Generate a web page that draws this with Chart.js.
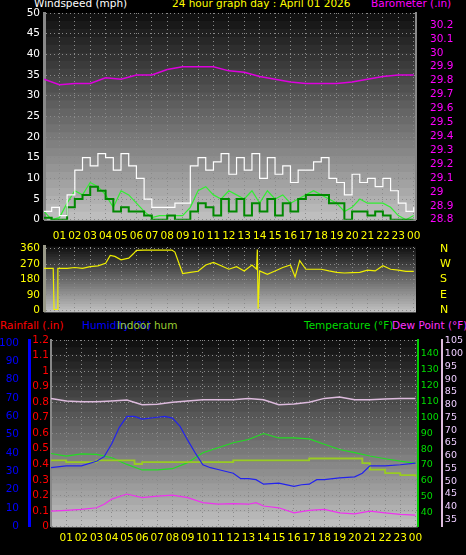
<!DOCTYPE html>
<html><head><meta charset="utf-8">
<script src="https://cdn.jsdelivr.net/npm/chart.js@4"></script>
<style>
body{margin:0;background:#000;width:466px;height:555px;overflow:hidden;position:relative;font-family:"DejaVu Sans",sans-serif}
.c{position:absolute;left:0;width:466px}
.t{position:absolute;font-size:10.5px;white-space:nowrap}
</style></head><body>
<div class="t" style="left:34px;top:-3px;color:#fff">Windspeed (mph)</div>
<div class="t" style="left:172px;top:-3px;color:#ff0">24 hour graph day : April 01 2026</div>
<div class="t" style="left:371px;top:-3px;color:#f0f">Barometer (.in)</div>
<div class="t" style="left:0px;top:319px;color:#f00">Rainfall (.in)</div>
<div class="t" style="left:82px;top:319px;color:#00f">Humidity (%)</div>
<div class="t" style="left:117px;top:319px;color:#9c3">Indoor hum</div>
<div class="t" style="left:304px;top:319px;color:#0d0">Temperature (°F)</div>
<div class="t" style="left:392px;top:319px;color:#f3f">Dew Point (°F)</div>
<div class="c" style="top:0;height:232px"><canvas id="c1"></canvas></div>
<div class="c" style="top:224px;height:110px"><canvas id="c2"></canvas></div>
<div class="c" style="top:318px;height:237px"><canvas id="c3"></canvas></div>
<script>
const halfHours=[0,0.5,1,1.5,2,2.5,3,3.5,4,4.5,5,5.5,6,6.5,7,7.5,8,8.5,9,9.5,10,10.5,11,11.5,12,12.5,13,13.5,14,14.5,15,15.5,16,16.5,17,17.5,18,18.5,19,19.5,20,20.5,21,21.5,22,22.5,23,23.5,24];
const windGust=[2,3,1,6,12,15,13,16,15,12,16,13,10,5,3,3,3,4,4,13,15,12,14,16,11,15,12,16,10,15,11,13,9,12,12,14,15,10,9,6,11,9,10,8,10,7,4,2,3];
const windAvg=[2,0,0.5,4,7,6,9,8,6,3,7,6,4,2,0.5,1,1,1,1,3,7,8,6,5,7,6,5,7,4,7,5,6,4,5,6,7,6,5,4,2,3,5,4,4,4,3,1,0,1];
const windSpeed=[0.5,0,0,3,5,6,8,7,5,2,3,2,2,1,0,0,1,0,0,2,4,3,1,5,2,5,1,4,2,5,1,4,2,5,6,6,6,4,4,0,2,2,1,2,1,0,0,0,0];
const hours=[0,1,2,3,4,5,6,7,8,9,10,11,12,13,14,15,16,17,18,19,20,21,22,23,24];
const baro=[29.81,29.77,29.78,29.78,29.82,29.81,29.84,29.84,29.88,29.9,29.9,29.9,29.87,29.86,29.83,29.81,29.79,29.78,29.78,29.78,29.79,29.81,29.83,29.84,29.84];
const dirX=[0,0.6,0.65,0.85,0.9,1.5,2,2.5,3,3.5,4,4.3,4.6,5,5.5,5.8,6,6.5,7,7.5,8,8.3,8.5,9,9.5,10,10.5,11,11.5,12,12.5,13,13.5,13.8,13.85,13.9,14,14.5,15,15.5,16,16.3,16.6,17,17.5,18,18.5,19,19.5,20,20.5,21,21.5,22,22.5,23,23.5,24];
const dirY=[245,245,5,5,245,245,250,245,255,260,275,320,315,295,305,330,350,352,352,352,352,352,340,215,222,228,265,280,260,240,255,230,265,240,355,10,230,210,230,250,265,195,290,240,240,240,230,222,218,220,222,235,230,260,240,235,228,228];
const humX=[0,1,2,3,3.5,4,4.5,5,5.5,6,7,7.5,8,8.5,9,9.5,10,10.5,11,12,12.5,13,13.5,14,15,16,16.5,17,17.5,18,19,20,20.5,21,22,23,24];
const humidity=[32,33,33,35.5,38,45,54,60,60,58.5,59.5,60,59,54.5,47,40,33.6,32,31,29,26,26,25.5,23,23.6,21.8,22.7,23,25.5,25.5,26.4,27,29,33,33,33.6,34.5];
const inHumX=[0,1,2,3,4,5,5.5,6,8,10,12,14,16,17,18,19,20,20.5,21,22,23,24];
const indoorHum=[36,35,35,36,36,36,34,35,35,35,36,36,36,37,37,37,37,34.5,31,29,28,27];
const temperature=[77.2,75.6,77,76.6,74.5,70.3,66.8,66.8,67.6,71.4,77.7,80.8,84,86,89.8,87,87,86.4,83,79.7,77.7,75.6,73.9,72.4,71];
const dewX=[0,1,2,3,3.5,4,5,6,7,8,9,10,11,12,13,13.5,14,15,16,17,18,19,20,21,22,23,24];
const dewPoint=[38.3,38.6,39,39.6,41,43,45,43.6,44.2,44.6,43.6,41.6,41,41.2,41,41.6,40.3,39.6,37.6,38.6,39,37.6,37.2,38.3,37.6,37,36.7];
const indoorTemp=[82.5,81.5,81.2,81.2,81.5,81.9,80,80.2,81,81.5,82,82,82,82.5,82,80,80.3,81,82.5,83,82,82,82.3,82.5,82.5];
const rainfall=[0,0,0,0,0,0,0,0,0,0,0,0,0,0,0,0,0,0,0,0,0,0,0,0,0];
const windTicks=[0,5,10,15,20,25,30,35,40,45,50];
const baroTicks=[28.8,28.9,29,29.1,29.2,29.3,29.4,29.5,29.6,29.7,29.8,29.9,30,30.1,30.2];
const dirTicks=[0,90,180,270,360];
const dirLabels=['N','E','S','W','N'];
const hourTicks=[0,1,2,3,4,5,6,7,8,9,10,11,12,13,14,15,16,17,18,19,20,21,22,23,24];
const humTicks=[0,10,20,30,40,50,60,70,80,90,100];
const rainTicks=[0,0.1,0.2,0.3,0.4,0.5,0.6,0.7,0.8,0.9,1,1.1,1.2];
const tempTicks=[40,50,60,70,80,90,100,110,120,130,140];
const dewTicks=[35,40,45,50,55,60,65,70,75,80,85,90,95,100,105];
const pts=(xs,ys)=>xs.map((x,i)=>({x,y:ys[i]}));
Chart.defaults.font={family:'DejaVu Sans',size:10.5};
const bg={id:'bg',beforeDraw(c){const a=c.chartArea,x=c.ctx,n=26,h=(a.bottom-a.top)/n;
 for(let i=0;i<n;i++){const v=Math.round(18+i*(190-18)/(n-1));x.fillStyle=`rgb(${v},${v},${v})`;x.fillRect(a.left,a.top+i*h,a.right-a.left,h+1);}}};
const grid={color:'#8a8a8a',drawTicks:false,lineWidth:1};
const fixW=w=>function(s){s.width=w;};
const setT=arr=>function(s){s.ticks=arr.map(v=>({value:v}));};
const hl=v=>String(v%24).padStart(2,'0');
const base={responsive:true,maintainAspectRatio:false,animation:false,plugins:{legend:{display:false},tooltip:{enabled:false}},elements:{point:{radius:0},line:{borderWidth:1.2,tension:0}}};
const tk=o=>Object.assign({autoSkip:false,maxRotation:0,minRotation:0},o);
const xHours=(pos,show)=>({type:'linear',position:pos,min:0,max:24.15,afterBuildTicks:setT(hourTicks),grid:grid,border:{display:false,dash:[1,3]},ticks:tk({display:show,color:'#ff0',padding:pos==='top'?4:6,callback:v=>v>=1?hl(v):''})});
new Chart(c1,{type:'line',plugins:[bg],data:{datasets:[
 {data:pts(halfHours,windGust),borderColor:'#fff',stepped:true},
 {data:pts(halfHours,windSpeed),borderColor:'#080',borderWidth:2,stepped:true},
 {data:pts(halfHours,windAvg),borderColor:'#3e3'},
 {data:pts(hours,baro),borderColor:'#d0d',borderWidth:1.5,yAxisID:'b'}]},
 options:Object.assign({},base,{layout:{padding:{top:13,bottom:12}},scales:{
  x:xHours('bottom',false),
  y:{min:0,max:50,afterFit:fixW(44),afterBuildTicks:setT(windTicks),ticks:tk({color:'#fff',padding:4}),grid:grid,border:{color:'#888',width:3,dash:[1,3]}},
  b:{position:'right',min:28.8,max:30.286,afterFit:fixW(50),afterBuildTicks:setT(baroTicks),ticks:tk({color:'#f0f',padding:6,callback:v=>Math.round(v*10)/10}),grid:{display:false},border:{color:'#888',width:2}}}})});
new Chart(c2,{type:'line',plugins:[bg],data:{datasets:[{data:pts(dirX,dirY),borderColor:'#ee0'}]},
 options:Object.assign({},base,{layout:{padding:{bottom:0}},scales:{
  x:xHours('top',true),
  y:{min:-6,max:372,afterFit:fixW(44),afterBuildTicks:setT(dirTicks),ticks:tk({color:'#ff0',padding:4}),grid:grid,border:{color:'#998',width:3,dash:[1,3]}},
  d:{position:'right',min:-6,max:372,afterFit:fixW(50),afterBuildTicks:setT(dirTicks),ticks:tk({color:'#ff0',padding:16,font:{size:11},callback:v=>dirLabels[dirTicks.indexOf(v)]}),grid:{display:false},border:{display:false}}}})});
new Chart(c3,{type:'line',plugins:[bg],data:{datasets:[
 {data:pts(hours,indoorTemp),borderColor:'#dbd',borderWidth:1.5,yAxisID:'dp'},
 {data:pts(humX,humidity),borderColor:'#22e',yAxisID:'h'},
 {data:pts(inHumX,indoorHum),borderColor:'#9c2',borderWidth:1.8,stepped:true,yAxisID:'h'},
 {data:pts(hours,temperature),borderColor:'#2d2',yAxisID:'t'},
 {data:pts(dewX,dewPoint),borderColor:'#e3e',yAxisID:'dp'},
 {data:pts(hours,rainfall),borderColor:'#f00',borderWidth:3,yAxisID:'r'}]},
 options:Object.assign({},base,{layout:{padding:{top:22,bottom:4,right:0}},scales:{
  x:xHours('bottom',true),
  r:{position:'left',min:0,max:1.2,afterFit:fixW(22),afterBuildTicks:setT(rainTicks),ticks:tk({color:'#f00',padding:2,callback:v=>Math.round(v*10)/10}),grid:grid,border:{color:'#888',width:2,dash:[1,3]}},
  h:{position:'left',min:0,max:101.6,afterFit:fixW(29),afterBuildTicks:setT(humTicks),ticks:tk({color:'#00f',padding:2}),grid:{display:false},border:{color:'#00f',width:3}},
  t:{position:'right',min:31.2,max:148.8,afterBuildTicks:setT(tempTicks),ticks:tk({color:'#0d0',padding:3,font:{size:9.5}}),grid:{display:false,tickLength:0},border:{color:'#0c0',width:2}},
  dp:{position:'right',min:32.3,max:105.4,afterBuildTicks:setT(dewTicks),ticks:tk({color:'#ecf',padding:3,font:{size:9.5}}),grid:{display:false,tickLength:0},border:{color:'#dbd',width:2}}}})});
</script></body></html>
